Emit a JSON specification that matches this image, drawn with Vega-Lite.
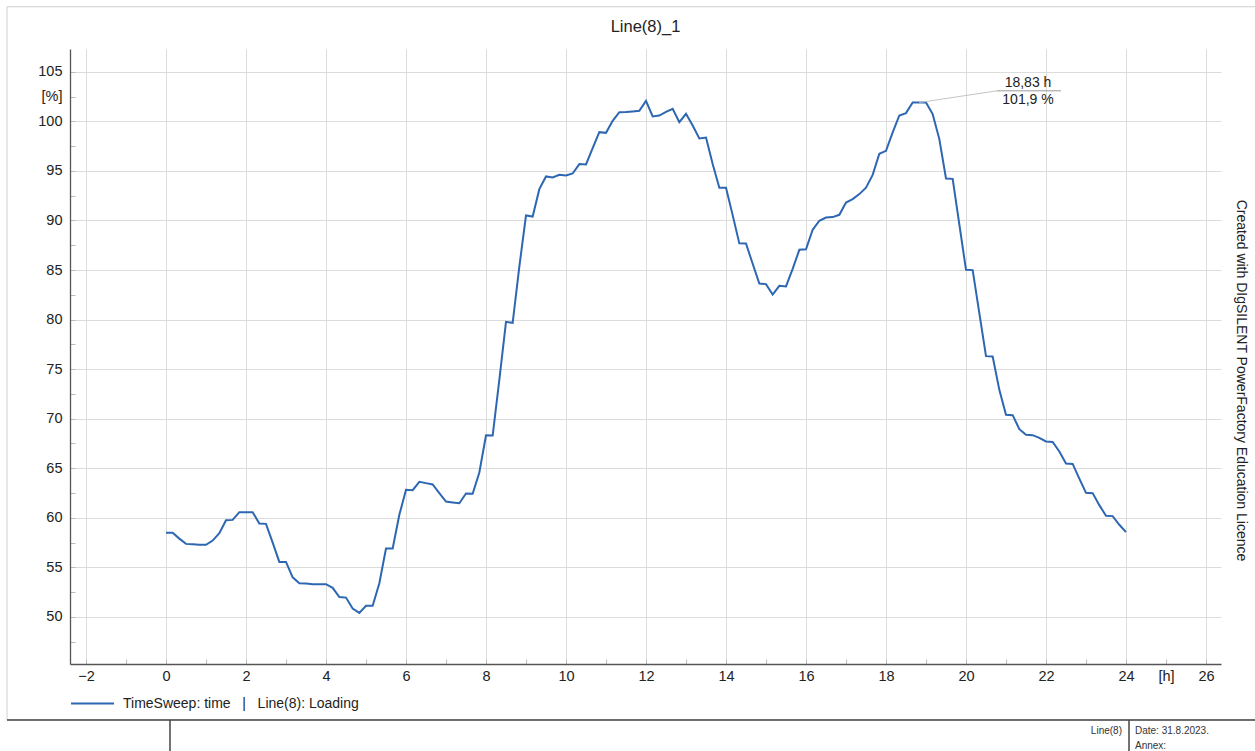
{
  "$schema": "https://vega.github.io/schema/vega-lite/v6.json",
  "width": 1151,
  "height": 615,
  "autosize": {"type": "none"},
  "padding": {"left": 70, "top": 49, "right": 34, "bottom": 87},
  "background": "white",
  "title": {"text": "Line(8)_1", "font": "Liberation Sans", "fontSize": 16.5, "fontWeight": "normal", "color": "#222222", "baseline": "bottom", "offset": -45},
  "config": {
    "view": {"stroke": null},
    "axis": {
      "labelFont": "Liberation Sans",
      "labelFontSize": 14.5,
      "labelColor": "#222222",
      "domainColor": "#555555",
      "domainWidth": 1.3,
      "tickColor": "#bbbbbb",
      "gridColor": "#dcdcdc",
      "labelOverlap": false,
      "labelFlush": false
    }
  },
  "datasets": {
    "loading": [
      {"t": 0, "v": 58.5}, {"t": 0.1667, "v": 58.5}, {"t": 0.3333, "v": 57.9}, {"t": 0.5, "v": 57.37},
      {"t": 0.6667, "v": 57.34}, {"t": 0.8333, "v": 57.27}, {"t": 1, "v": 57.27}, {"t": 1.1667, "v": 57.7},
      {"t": 1.3333, "v": 58.45}, {"t": 1.5, "v": 59.76}, {"t": 1.6667, "v": 59.79}, {"t": 1.8333, "v": 60.57},
      {"t": 2, "v": 60.57}, {"t": 2.1667, "v": 60.57}, {"t": 2.3333, "v": 59.42}, {"t": 2.5, "v": 59.39},
      {"t": 2.6667, "v": 57.5}, {"t": 2.8333, "v": 55.55}, {"t": 3, "v": 55.55}, {"t": 3.1667, "v": 54.0},
      {"t": 3.3333, "v": 53.4}, {"t": 3.5, "v": 53.37}, {"t": 3.6667, "v": 53.3}, {"t": 3.8333, "v": 53.3},
      {"t": 4, "v": 53.3}, {"t": 4.1667, "v": 52.93}, {"t": 4.3333, "v": 52.0}, {"t": 4.5, "v": 51.95},
      {"t": 4.6667, "v": 50.84}, {"t": 4.8333, "v": 50.41}, {"t": 5, "v": 51.12}, {"t": 5.1667, "v": 51.12},
      {"t": 5.3333, "v": 53.4}, {"t": 5.5, "v": 56.9}, {"t": 5.6667, "v": 56.9}, {"t": 5.8333, "v": 60.3},
      {"t": 6, "v": 62.82}, {"t": 6.1667, "v": 62.79}, {"t": 6.3333, "v": 63.63}, {"t": 6.5, "v": 63.5},
      {"t": 6.6667, "v": 63.36}, {"t": 6.8333, "v": 62.5}, {"t": 7, "v": 61.64}, {"t": 7.1667, "v": 61.55},
      {"t": 7.3333, "v": 61.47}, {"t": 7.5, "v": 62.45}, {"t": 7.6667, "v": 62.42}, {"t": 7.8333, "v": 64.57},
      {"t": 8, "v": 68.33}, {"t": 8.1667, "v": 68.3}, {"t": 8.3333, "v": 73.92}, {"t": 8.5, "v": 79.77},
      {"t": 8.6667, "v": 79.67}, {"t": 8.8333, "v": 85.35}, {"t": 9, "v": 90.5}, {"t": 9.1667, "v": 90.4},
      {"t": 9.3333, "v": 93.16}, {"t": 9.5, "v": 94.44}, {"t": 9.6667, "v": 94.34}, {"t": 9.8333, "v": 94.6},
      {"t": 10, "v": 94.54}, {"t": 10.1667, "v": 94.74}, {"t": 10.3333, "v": 95.69}, {"t": 10.5, "v": 95.65},
      {"t": 10.6667, "v": 97.3}, {"t": 10.8333, "v": 98.91}, {"t": 11, "v": 98.84}, {"t": 11.1667, "v": 100.05},
      {"t": 11.3333, "v": 100.93}, {"t": 11.5, "v": 100.95}, {"t": 11.6667, "v": 101.0}, {"t": 11.8333, "v": 101.06},
      {"t": 12, "v": 102.07}, {"t": 12.1667, "v": 100.49}, {"t": 12.3333, "v": 100.59}, {"t": 12.5, "v": 100.96},
      {"t": 12.6667, "v": 101.27}, {"t": 12.8333, "v": 99.92}, {"t": 13, "v": 100.76}, {"t": 13.1667, "v": 99.58},
      {"t": 13.3333, "v": 98.27}, {"t": 13.5, "v": 98.37}, {"t": 13.6667, "v": 95.69}, {"t": 13.8333, "v": 93.3},
      {"t": 14, "v": 93.3}, {"t": 14.1667, "v": 90.54}, {"t": 14.3333, "v": 87.69}, {"t": 14.5, "v": 87.67},
      {"t": 14.6667, "v": 85.63}, {"t": 14.8333, "v": 83.64}, {"t": 15, "v": 83.58}, {"t": 15.1667, "v": 82.53},
      {"t": 15.3333, "v": 83.41}, {"t": 15.5, "v": 83.34}, {"t": 15.6667, "v": 85.12}, {"t": 15.8333, "v": 87.04},
      {"t": 16, "v": 87.1}, {"t": 16.1667, "v": 89.06}, {"t": 16.3333, "v": 89.97}, {"t": 16.5, "v": 90.3},
      {"t": 16.6667, "v": 90.34}, {"t": 16.8333, "v": 90.57}, {"t": 17, "v": 91.81}, {"t": 17.1667, "v": 92.15},
      {"t": 17.3333, "v": 92.66}, {"t": 17.5, "v": 93.3}, {"t": 17.6667, "v": 94.6}, {"t": 17.8333, "v": 96.73},
      {"t": 18, "v": 97.03}, {"t": 18.1667, "v": 98.88}, {"t": 18.3333, "v": 100.59}, {"t": 18.5, "v": 100.83},
      {"t": 18.6667, "v": 101.9}, {"t": 18.8333, "v": 101.9}, {"t": 19, "v": 101.9}, {"t": 19.1667, "v": 100.73},
      {"t": 19.3333, "v": 98.21}, {"t": 19.5, "v": 94.23}, {"t": 19.6667, "v": 94.2}, {"t": 19.8333, "v": 89.6},
      {"t": 20, "v": 85.02}, {"t": 20.1667, "v": 84.99}, {"t": 20.3333, "v": 80.65}, {"t": 20.5, "v": 76.31},
      {"t": 20.6667, "v": 76.27}, {"t": 20.8333, "v": 72.91}, {"t": 21, "v": 70.39}, {"t": 21.1667, "v": 70.36},
      {"t": 21.3333, "v": 68.94}, {"t": 21.5, "v": 68.37}, {"t": 21.6667, "v": 68.34}, {"t": 21.8333, "v": 68.07},
      {"t": 22, "v": 67.7}, {"t": 22.1667, "v": 67.66}, {"t": 22.3333, "v": 66.69}, {"t": 22.5, "v": 65.47},
      {"t": 22.6667, "v": 65.44}, {"t": 22.8333, "v": 63.96}, {"t": 23, "v": 62.52}, {"t": 23.1667, "v": 62.49},
      {"t": 23.3333, "v": 61.28}, {"t": 23.5, "v": 60.2}, {"t": 23.6667, "v": 60.17}, {"t": 23.8333, "v": 59.3},
      {"t": 24, "v": 58.55}
    ]
  },
  "layer": [
    {
      "data": {"values": [{}]},
      "mark": {"type": "rect", "fill": null, "stroke": "#d0d0d0", "strokeWidth": 1},
      "encoding": {
        "x": {"datum": -3.975, "type": "quantitative"},
        "x2": {"datum": 28},
        "y": {"datum": 39.61, "type": "quantitative", "axis": null},
        "y2": {"datum": 111.56}
      }
    },
    {
      "data": {"values": [{}]},
      "mark": {"type": "rule", "color": "#444444", "strokeWidth": 1.5},
      "encoding": {
        "x": {"datum": -3.975, "type": "quantitative"},
        "x2": {"datum": 28},
        "y": {"datum": 39.61, "type": "quantitative", "axis": null}
      }
    },
    {
      "data": {"values": [{}]},
      "mark": {"type": "rule", "color": "#444444", "strokeWidth": 1.5},
      "encoding": {
        "x": {"datum": 0.1, "type": "quantitative"},
        "y": {"datum": 39.61, "type": "quantitative", "axis": null},
        "y2": {"datum": 35}
      }
    },
    {
      "data": {"values": [{}]},
      "mark": {"type": "rule", "color": "#444444", "strokeWidth": 1.5},
      "encoding": {
        "x": {"datum": 24.075, "type": "quantitative"},
        "y": {"datum": 39.61, "type": "quantitative", "axis": null},
        "y2": {"datum": 35}
      }
    },
    {
      "data": {"values": [{}]},
      "mark": {"type": "text", "text": "Line(8)", "align": "right", "baseline": "middle", "font": "Liberation Sans", "fontSize": 10, "color": "#333333"},
      "encoding": {
        "x": {"datum": 23.9, "type": "quantitative"},
        "y": {"datum": 38.5, "type": "quantitative", "axis": null}
      }
    },
    {
      "data": {"values": [{}]},
      "mark": {"type": "text", "text": "Date: 31.8.2023.", "align": "left", "baseline": "middle", "font": "Liberation Sans", "fontSize": 10, "color": "#333333"},
      "encoding": {
        "x": {"datum": 24.225, "type": "quantitative"},
        "y": {"datum": 38.5, "type": "quantitative", "axis": null}
      }
    },
    {
      "data": {"values": [{}]},
      "mark": {"type": "text", "text": "Annex:", "align": "left", "baseline": "middle", "font": "Liberation Sans", "fontSize": 10, "color": "#333333"},
      "encoding": {
        "x": {"datum": 24.225, "type": "quantitative"},
        "y": {"datum": 37.0, "type": "quantitative", "axis": null}
      }
    },
    {
      "data": {"name": "loading"},
      "mark": {"type": "line", "strokeWidth": 2, "clip": true},
      "encoding": {
        "x": {
          "field": "t",
          "type": "quantitative",
          "scale": {"domain": [-2.4, 26.375], "nice": false, "zero": false},
          "axis": {
            "title": null,
            "values": [-2, -1, 0, 1, 2, 3, 4, 5, 6, 7, 8, 9, 10, 11, 12, 13, 14, 15, 16, 17, 18, 19, 20, 21, 22, 23, 24, 25, 26],
            "grid": true,
            "gridOpacity": {"condition": {"test": "datum.value % 2 === 0", "value": 1}, "value": 0},
            "labelExpr": "datum.value === 25 ? '[h]' : (datum.value % 2 === 0 ? datum.label : '')",
            "tickSize": -5,
            "labelPadding": 10
          }
        },
        "y": {
          "field": "v",
          "type": "quantitative",
          "scale": {"domain": [45.25, 107.3], "nice": false, "zero": false},
          "axis": {
            "orient": "left",
            "title": null,
            "values": [47.5, 50, 52.5, 55, 57.5, 60, 62.5, 65, 67.5, 70, 72.5, 75, 77.5, 80, 82.5, 85, 87.5, 90, 92.5, 95, 97.5, 100, 102.5, 105],
            "grid": true,
            "gridOpacity": {"condition": {"test": "datum.value % 5 === 0", "value": 1}, "value": 0},
            "labelExpr": "datum.value === 102.5 ? '[%]' : (datum.value % 5 === 0 ? datum.label : '')",
            "tickSize": -5,
            "labelPadding": 13
          }
        },
        "color": {
          "datum": "TimeSweep: time \u00a0\u00a0|\u00a0\u00a0 Line(8): Loading",
          "type": "nominal",
          "scale": {"range": ["#2d67b2"]},
          "legend": {
            "orient": "none",
            "legendX": 0,
            "legendY": 632,
            "title": null,
            "padding": 0,
            "symbolType": "stroke",
            "symbolSize": 1849,
            "symbolStrokeWidth": 2,
            "labelFont": "Liberation Sans",
            "labelFontSize": 14,
            "labelColor": "#222222",
            "labelOffset": 8,
            "labelLimit": 500
          }
        }
      }
    },
    {
      "data": {"values": [{}]},
      "mark": {"type": "rule", "color": "#c4c4c4", "strokeWidth": 1},
      "encoding": {
        "x": {"datum": 18.8333, "type": "quantitative"},
        "y": {"datum": 101.9, "type": "quantitative", "axis": null},
        "x2": {"datum": 20.775},
        "y2": {"datum": 103.08}
      }
    },
    {
      "data": {"values": [{}]},
      "mark": {"type": "rule", "color": "#999999", "strokeWidth": 1},
      "encoding": {
        "x": {"datum": 20.775, "type": "quantitative"},
        "x2": {"datum": 22.375},
        "y": {"datum": 103.08, "type": "quantitative", "axis": null}
      }
    },
    {
      "data": {"values": [{}]},
      "mark": {"type": "text", "text": "101,9 %", "align": "center", "baseline": "middle", "font": "Liberation Sans", "fontSize": 14, "color": "#222222"},
      "encoding": {
        "x": {"datum": 21.55, "type": "quantitative"},
        "y": {"datum": 102.17, "type": "quantitative", "axis": null}
      }
    },
    {
      "data": {"values": [{}]},
      "mark": {"type": "text", "text": "18,83 h", "align": "center", "baseline": "middle", "font": "Liberation Sans", "fontSize": 14, "color": "#222222"},
      "encoding": {
        "x": {"datum": 21.55, "type": "quantitative"},
        "y": {
          "datum": 103.92,
          "type": "quantitative",
          "axis": {
            "orient": "right",
            "title": "Created with DIgSILENT PowerFactory Education Licence",
            "titleFont": "Liberation Sans",
            "titleFontSize": 14,
            "titleFontWeight": "normal",
            "titleColor": "#222222",
            "titlePadding": 12,
            "titleY": 331,
            "labels": false,
            "ticks": false,
            "domain": false,
            "grid": false
          }
        }
      }
    }
  ],
  "resolve": {"axis": {"y": "independent"}}
}
